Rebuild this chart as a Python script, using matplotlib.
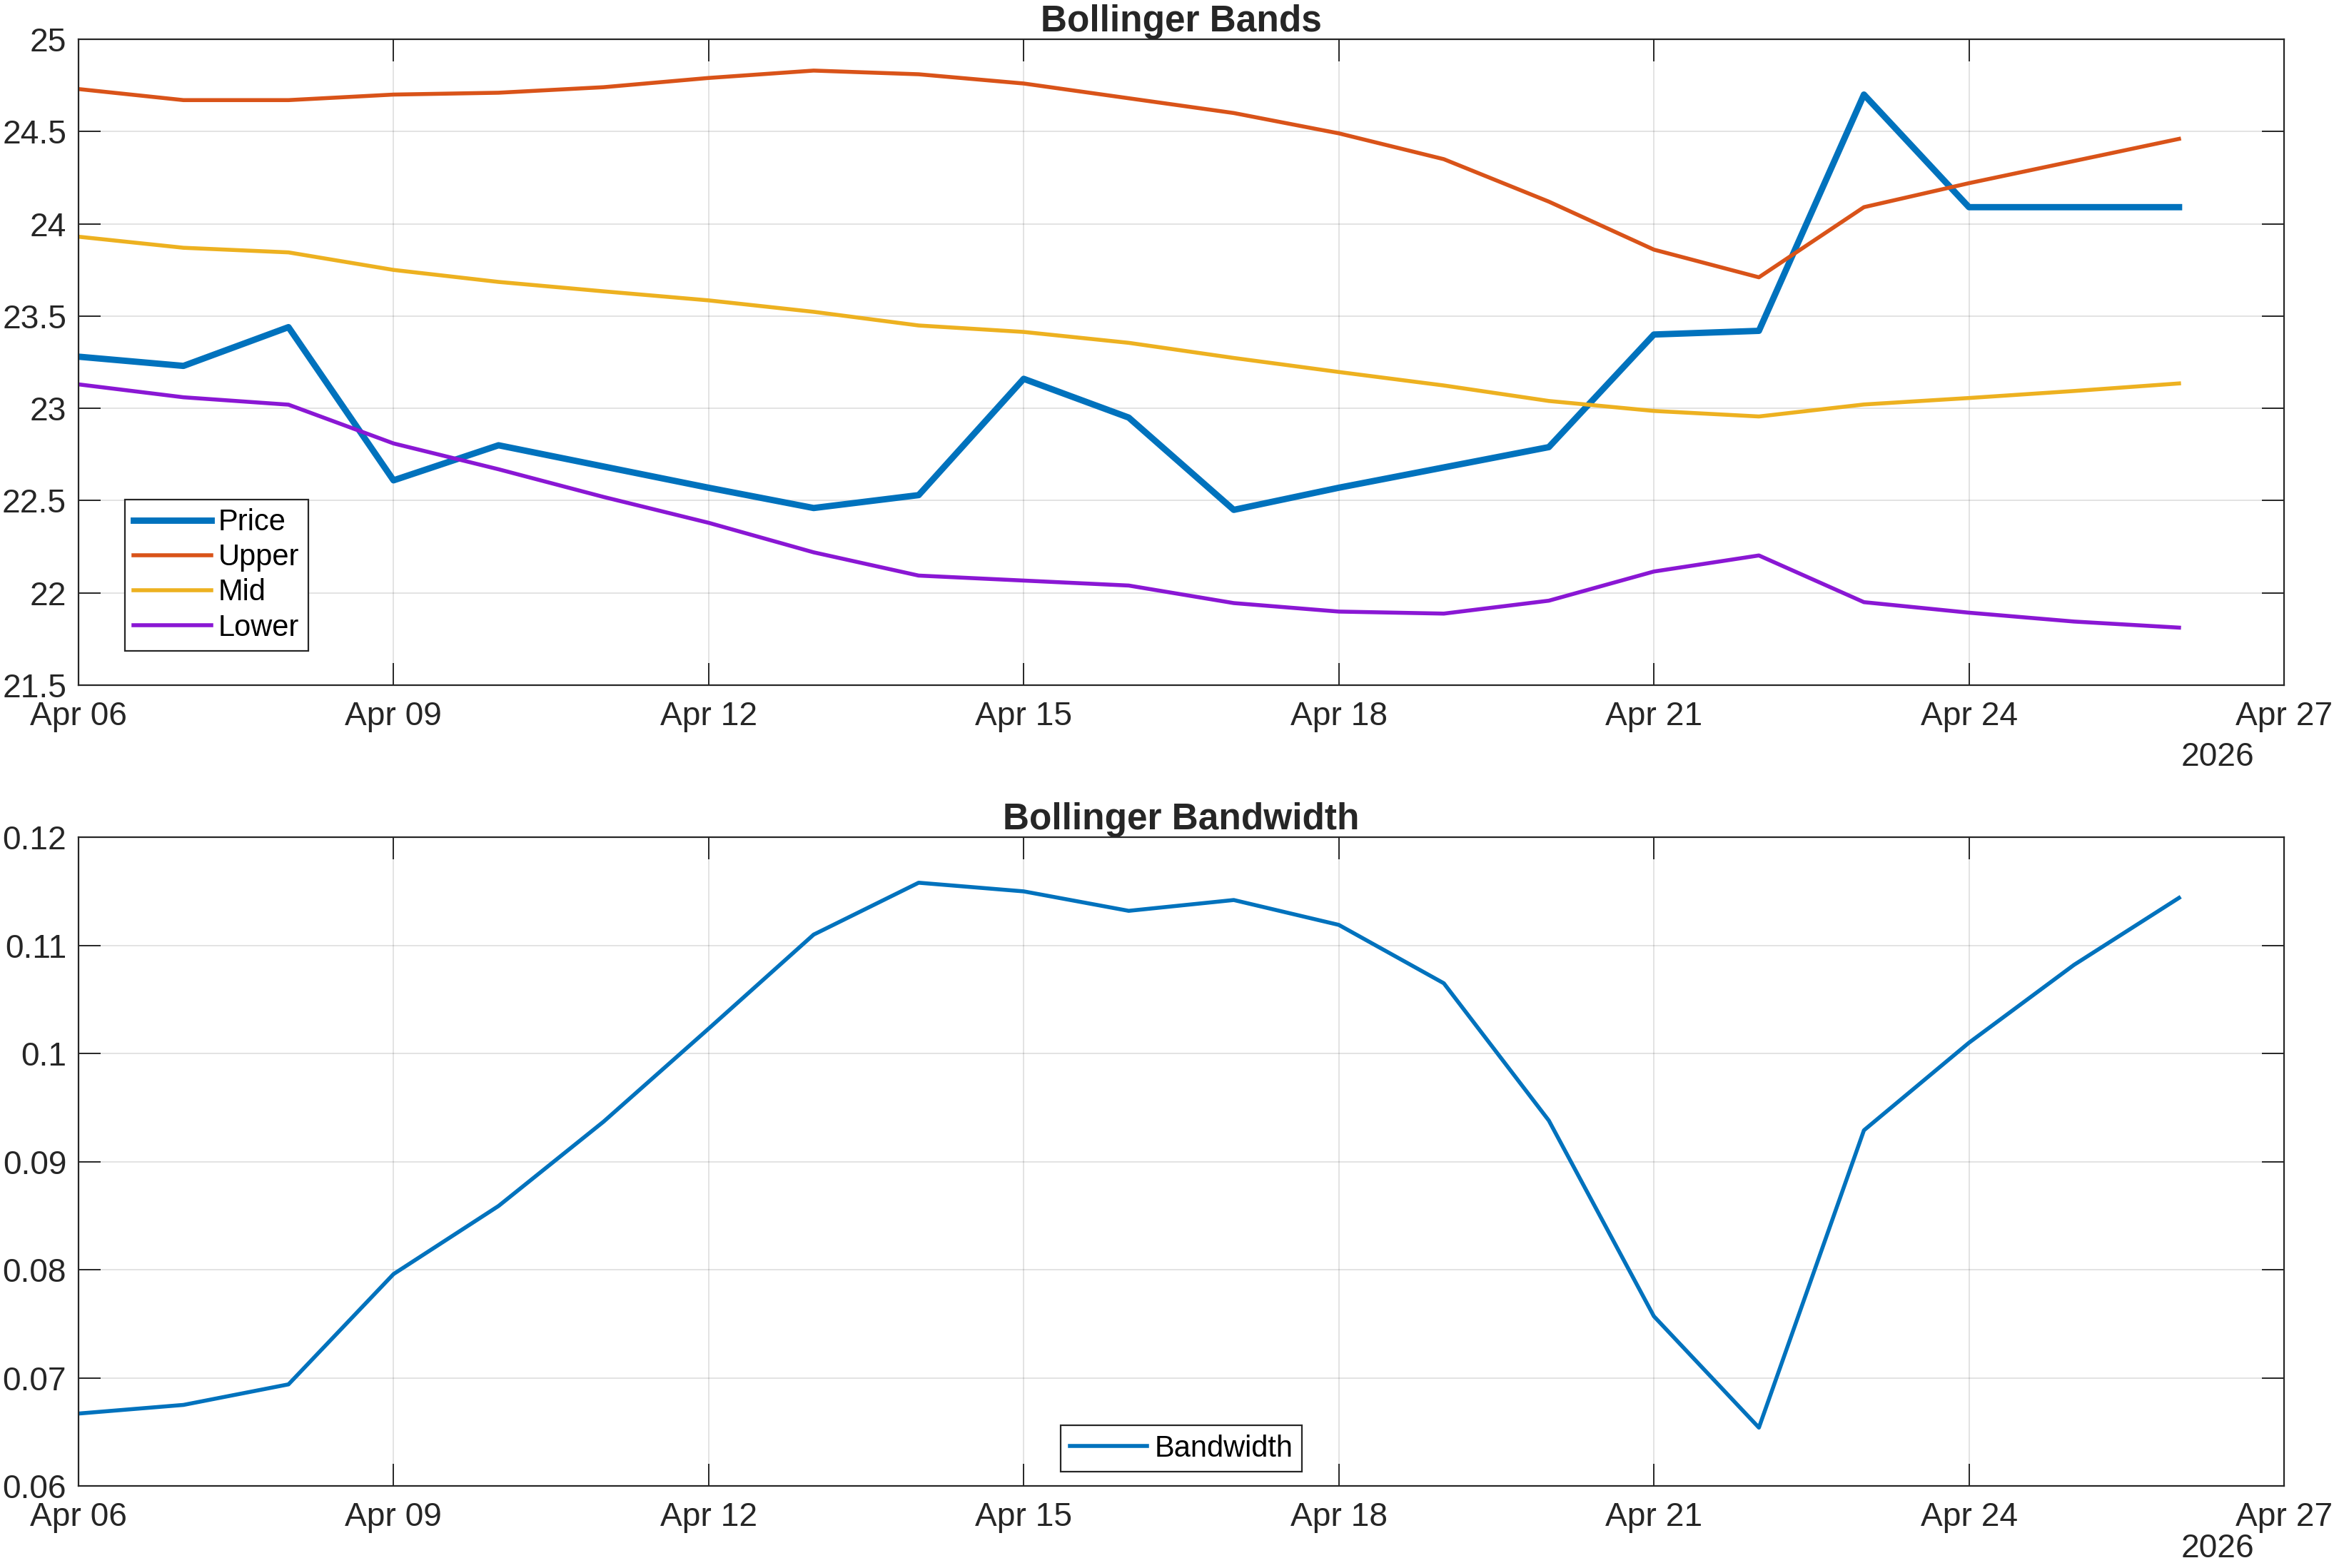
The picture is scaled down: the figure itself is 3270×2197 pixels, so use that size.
import matplotlib
matplotlib.use("Agg")
import matplotlib.pyplot as plt
import matplotlib.dates as mdates
import pandas as pd

plt.rcParams['font.family'] = ['Liberation Sans', 'DejaVu Sans']

# Daily dates, Apr 06 - Apr 26 2026
dates = pd.date_range("2026-04-06", "2026-04-26", freq="D")

price = [23.28, 23.23, 23.44, 22.61, 22.80, 22.685, 22.57, 22.46, 22.53, 23.16, 22.95,
         22.45, 22.57, 22.68, 22.79, 23.40, 23.42, 24.70, 24.09, 24.09, 24.09]
upper = [24.73, 24.67, 24.67, 24.70, 24.71, 24.74, 24.79, 24.83, 24.81, 24.76, 24.68,
         24.60, 24.49, 24.35, 24.12, 23.86, 23.71, 24.09, 24.22, 24.34, 24.46]
mid = [23.93, 23.87, 23.845, 23.75, 23.685, 23.634, 23.585, 23.523, 23.449, 23.414, 23.355,
       23.273, 23.197, 23.124, 23.04, 22.986, 22.956, 23.021, 23.056, 23.094, 23.135]
lower = [23.13, 23.06, 23.02, 22.81, 22.67, 22.52, 22.38, 22.22, 22.094, 22.067, 22.04,
         21.945, 21.899, 21.888, 21.958, 22.116, 22.203, 21.95, 21.893, 21.845, 21.812]
bandwidth = [0.0667, 0.0675, 0.0694, 0.0796, 0.0859, 0.0937, 0.1023, 0.1110, 0.1158, 0.1150,
             0.1132, 0.1142, 0.1119, 0.1065, 0.0938, 0.0757, 0.0654, 0.0929, 0.1010, 0.1082, 0.1144]

top_ticks = [21.5, 22, 22.5, 23, 23.5, 24, 24.5, 25]
bot_ticks = [0.06, 0.07, 0.08, 0.09, 0.10, 0.11, 0.12]

c_price = '#0072BD'
c_upper = '#D95319'
c_mid = '#EDB120'
c_lower = '#8A17D4'
txt = '#262626'

fig = plt.figure(figsize=(16.35, 10.985), dpi=200, facecolor='white')
ax1 = fig.add_axes([0.0336, 0.563, 0.945, 0.412])
ax2 = fig.add_axes([0.0336, 0.0523, 0.945, 0.4137])

ax1.plot(dates, price, color=c_price, linewidth=3.2, label='Price')
ax1.plot(dates, upper, color=c_upper, linewidth=2.0, label='Upper')
ax1.plot(dates, mid, color=c_mid, linewidth=2.0, label='Mid')
ax1.plot(dates, lower, color=c_lower, linewidth=2.0, label='Lower')
ax1.set_ylim(21.5, 25)
ax1.set_yticks(top_ticks)
ax1.set_yticklabels(['%g' % v for v in top_ticks])
ax1.set_title('Bollinger Bands', fontsize=18.5, fontweight='bold', color=txt, pad=4)
leg1 = ax1.legend(loc='lower left', bbox_to_anchor=(0.021, 0.053), fontsize=15, fancybox=False,
                  edgecolor=txt, framealpha=1, borderpad=0.3, labelspacing=0.22,
                  handlelength=2.6, handletextpad=0.25, borderaxespad=0)
leg1.get_frame().set_linewidth(0.8)

ax2.plot(dates, bandwidth, color=c_price, linewidth=2.0, label='Bandwidth')
ax2.set_ylim(0.06, 0.12)
ax2.set_yticks(bot_ticks)
ax2.set_yticklabels(['%g' % round(v, 2) for v in bot_ticks])
ax2.set_title('Bollinger Bandwidth', fontsize=18.5, fontweight='bold', color=txt, pad=4)
leg2 = ax2.legend(loc='lower center', bbox_to_anchor=(0.5, 0.022), fontsize=15, fancybox=False,
                  edgecolor=txt, framealpha=1, borderpad=0.3, handlelength=2.6,
                  handletextpad=0.25, borderaxespad=0)
leg2.get_frame().set_linewidth(0.8)

for ax, yr_y in ((ax1, -0.112), (ax2, -0.097)):
    ax.set_xlim(pd.Timestamp("2026-04-06"), pd.Timestamp("2026-04-27"))
    ax.xaxis.set_major_locator(mdates.DayLocator(bymonthday=[6, 9, 12, 15, 18, 21, 24, 27]))
    ax.xaxis.set_major_formatter(mdates.DateFormatter('%b %d'))
    ax.grid(True, color='black', alpha=0.13, linewidth=0.6)
    ax.tick_params(direction='in', length=11, width=0.7, colors=txt, labelsize=16.6,
                   top=True, right=True)
    ax.tick_params(axis='x', pad=8)
    ax.tick_params(axis='y', pad=6)
    for s in ax.spines.values():
        s.set_color(txt)
        s.set_linewidth(0.8)
    ax.text(0.97, yr_y, '2026', transform=ax.transAxes, ha='center', va='center',
            fontsize=16.6, color=txt)

fig.savefig('out.png', dpi=200, facecolor='white')
